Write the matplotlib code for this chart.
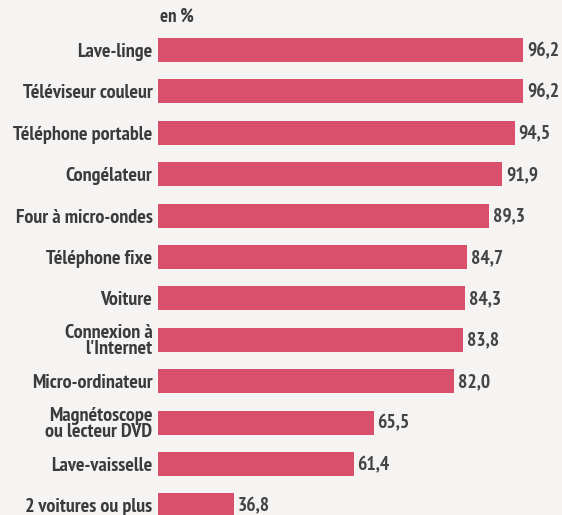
import matplotlib
matplotlib.use("Agg")
import matplotlib.pyplot as plt

categories = ["Lave-linge", "Téléviseur couleur", "Téléphone portable", "Congélateur",
              "Four à micro-ondes", "Téléphone fixe", "Voiture", "Connexion à\nl'Internet",
              "Micro-ordinateur", "Magnétoscope\nou lecteur DVD", "Lave-vaisselle",
              "2 voitures ou plus"]
values = [96.2, 96.2, 94.5, 91.9, 89.3, 84.7, 84.3, 83.8, 82.0, 65.5, 61.4, 36.8]
value_labels = ["96,2", "96,2", "94,5", "91,9", "89,3", "84,7", "84,3", "83,8",
                "82,0", "65,5", "61,4", "36,8"]

plt.rcParams["font.family"] = ["PT Sans Narrow", "Open Sans Condensed",
                               "Roboto Condensed", "DejaVu Sans"]

bg = "#f5f4f2"
bar_color = "#d9506c"
text_color = "#3b3b3d"

fig = plt.figure(figsize=(5.62, 5.15), dpi=100, facecolor=bg)
ax = fig.add_axes([158 / 562, 0, 1 - 158 / 562, 1])
ax.set_facecolor(bg)

pos = list(range(len(values)))
ax.barh(pos, values, height=0.58, color=bar_color)

# valeurs a droite des barres
for y, v, s in zip(pos, values, value_labels):
    ax.text(v + 0.8, y + 0.02, s, va="center", ha="left", fontsize=14,
            fontweight="bold", color="#444446")

ax.set_xlim(21.2, 104.2)
ax.set_ylim(11.23, -1.21)
ax.set_yticks(pos)
ax.set_yticklabels(categories, fontsize=14.5, fontweight="bold", color=text_color)
for lbl in ax.get_yticklabels():
    lbl.set_linespacing(0.85)
ax.tick_params(axis="y", length=0, pad=4)
ax.set_xticks([])
for sp in ax.spines.values():
    sp.set_visible(False)

ax.text(21.6, -0.8, "en %", ha="left", va="center", fontsize=13.5,
        fontweight="bold", color=text_color)

fig.savefig("out.png", dpi=100, facecolor=bg)
